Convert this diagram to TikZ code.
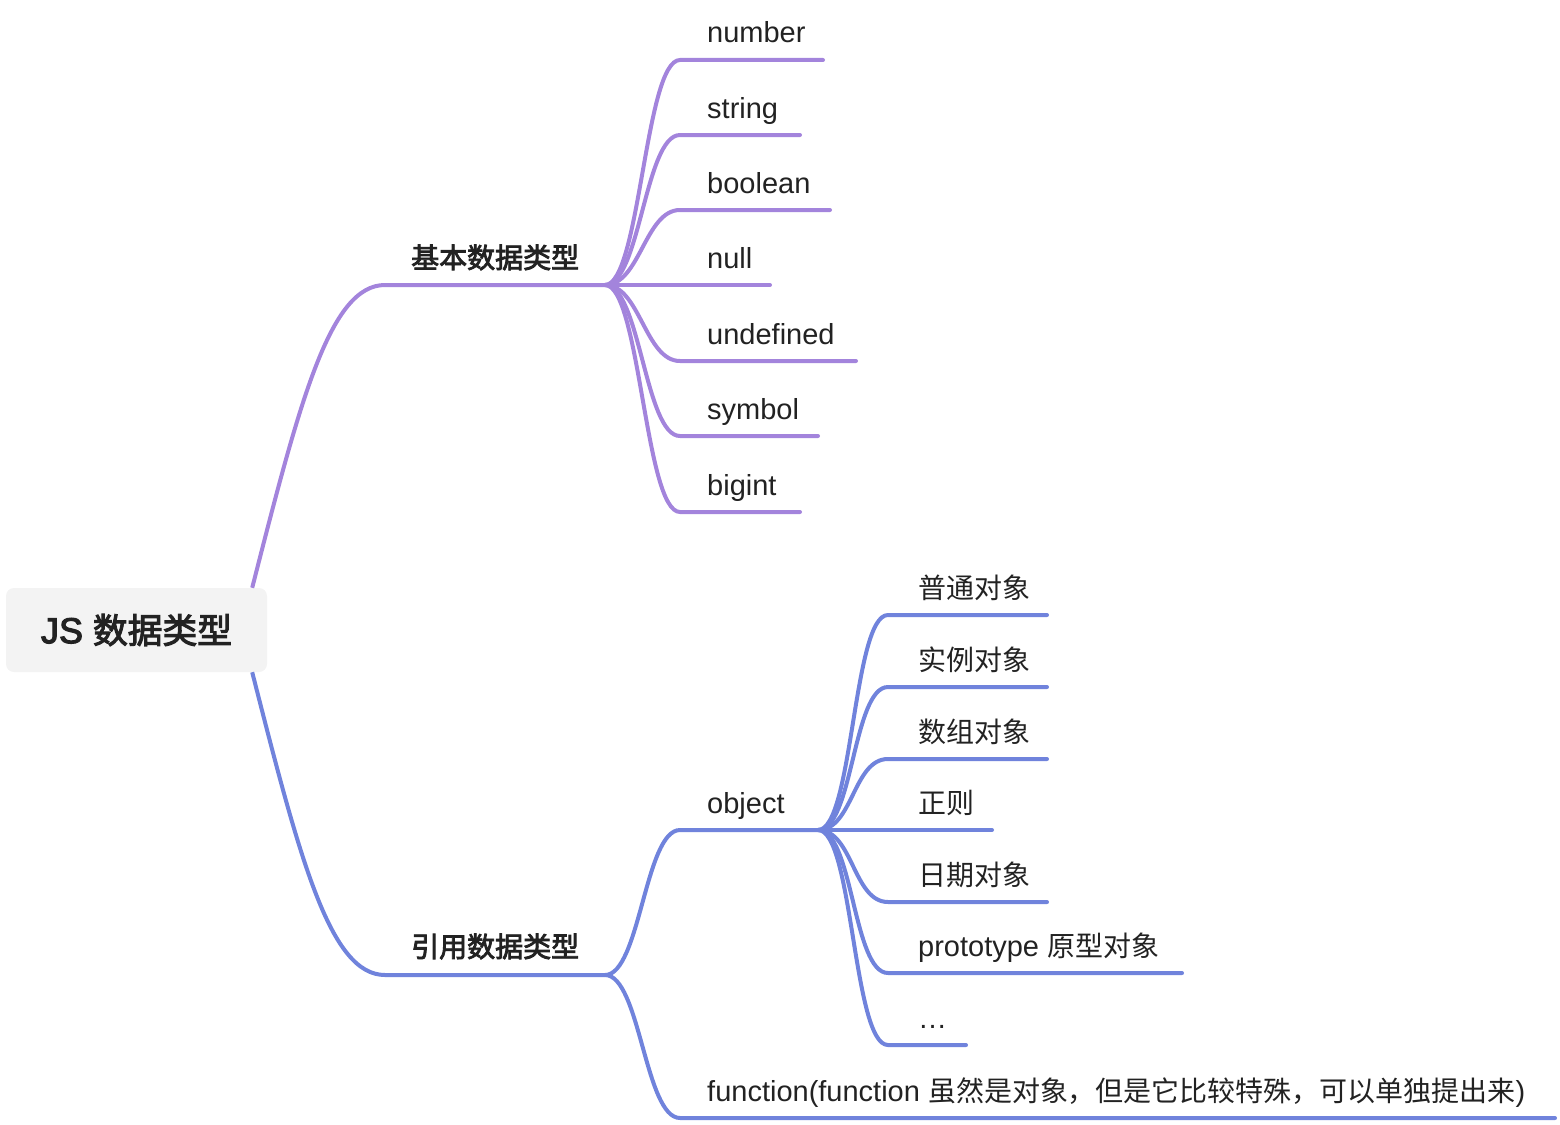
\documentclass[tikz,border=0pt]{standalone}
\usepackage{fontspec}
\setmainfont{Liberation Sans}
\newfontfamily\cjk{Noto Sans CJK SC}[Scale=0.965]
\newfontfamily\cjkmed{Noto Sans CJK SC}[Scale=0.965, FakeBold=3]
\newfontfamily\latinmed{Liberation Sans}[FakeBold=3]
\usetikzlibrary{calc}
\definecolor{basicpurple}{HTML}{A384DC}
\definecolor{refblue}{HTML}{7083DC}
\definecolor{rootgray}{HTML}{F3F3F3}
\definecolor{txtgray}{HTML}{222222}
\tikzset{
  leaf/.style={anchor=base west, inner sep=0pt, text=txtgray, font=\fontsize{29}{34}\selectfont},
  branchlbl/.style={leaf, font=\fontsize{29}{34}\selectfont\cjkmed},
  rootbox/.style={fill=rootgray, rounded corners=8pt, minimum width=261pt, minimum height=84pt, text=txtgray, font=\fontsize{36}{42}\selectfont\latinmed},
  purpleline/.style={draw=basicpurple, line width=4pt, line cap=round},
  blueline/.style={draw=refblue, line width=4pt, line cap=round},
}
\begin{document}
\begin{tikzpicture}[x=1pt,y=-1pt]
    \useasboundingbox (0,0) rectangle (1560,1124);

    % Nodo radice
    \node[rootbox] (root) at (136.5,630) {JS {\cjkmed 数据类型}};

    % Rami principali
    \coordinate (basicS) at (385,285);
    \coordinate (basic) at (605,285);
    \coordinate (refS) at (385,975);
    \coordinate (ref) at (605,975);
    \draw[purpleline, line cap=butt] ($(root.north east)+(-15,0)$) .. controls +(48,-188) and +(-55,0) .. (basicS) -- (basic);
    \draw[blueline, line cap=butt] ($(root.south east)+(-15,0)$) .. controls +(48,188) and +(-55,0) .. (refS) -- (ref);
    \node[branchlbl] (basicLbl) at (411,268) {基本数据类型};
    \node[branchlbl] (refLbl) at (411,957) {引用数据类型};

    % Foglie dei tipi di base
    \foreach \txt/\y/\e [count=\i] in {number/60/823, string/135/800, boolean/210/830, null/285/770, undefined/361/856, symbol/436/818, bigint/512/800} {
        \coordinate (bs\i) at (680,\y);
        \coordinate (be\i) at (\e,\y);
        \node[leaf] (b\i) at (707,\y-17) {\txt};
        \draw[purpleline] (basic) .. controls +(35,0) and +(-35,0) .. (bs\i) -- (be\i);
    }

    % Ramo object
    \coordinate (objS) at (680,830);
    \coordinate (obj) at (818,830);
    \node[leaf] (objLbl) at (707,813) {object};
    \draw[blueline] (ref) .. controls +(35,0) and +(-35,0) .. (objS) -- (obj);
    \foreach \txt/\y/\e [count=\i] in {{\cjk 普通对象}/615/1047, {\cjk 实例对象}/687/1047, {\cjk 数组对象}/759/1047, {\cjk 正则}/830/992, {\cjk 日期对象}/902/1047, {prototype {\cjk 原型对象}}/973/1182, {\ldots}/1045/966} {
        \coordinate (os\i) at (888,\y);
        \coordinate (oe\i) at (\e,\y);
        \node[leaf] (o\i) at (918,\y-17) {\txt};
        \draw[blueline] (obj) .. controls +(35,0) and +(-35,0) .. (os\i) -- (oe\i);
    }

    % Ramo function
    \coordinate (funS) at (680,1118);
    \coordinate (funE) at (1555,1118);
    \node[leaf] (funLbl) at (707,1101) {function(function {\cjk 虽然是对象，但是它比较特殊，可以单独提出来})};
    \draw[blueline] (ref) .. controls +(35,0) and +(-35,0) .. (funS) -- (funE);
\end{tikzpicture}
\end{document}
